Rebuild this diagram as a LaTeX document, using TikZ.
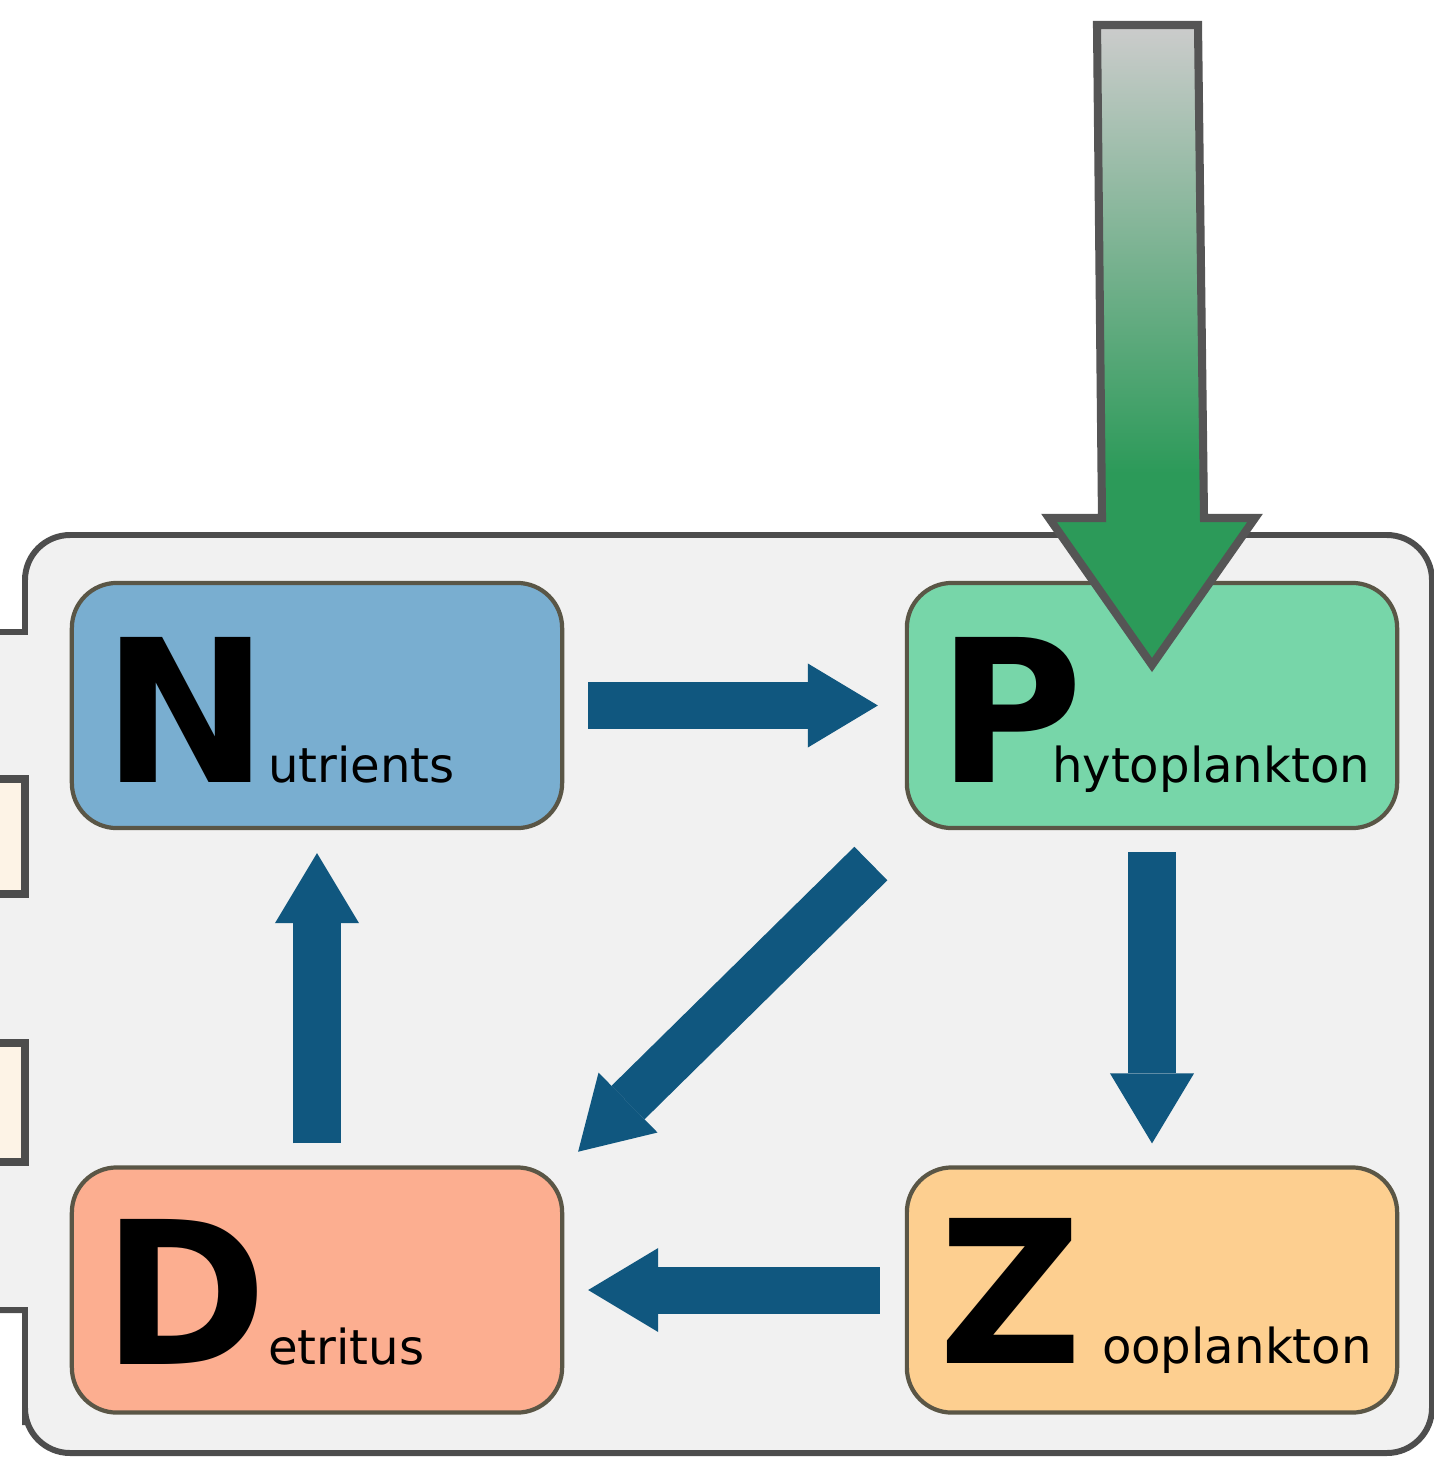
\documentclass[tikz,border=0pt]{standalone}
\usepackage{fontspec}
\setmainfont{DejaVu Sans}
\usetikzlibrary{arrows.meta}
\definecolor{panelfill}{HTML}{F1F1F1}
\definecolor{panelline}{HTML}{4D4D4D}
\definecolor{boxline}{HTML}{5A5646}
\definecolor{nfill}{HTML}{79AED0}
\definecolor{pfill}{HTML}{77D6A9}
\definecolor{dfill}{HTML}{FCAE90}
\definecolor{zfill}{HTML}{FDCF90}
\definecolor{flowblue}{HTML}{10577F}
\definecolor{arrowedge}{HTML}{555555}
\definecolor{flowgreen}{HTML}{2C9A59}
\definecolor{flowgrey}{HTML}{CCCCCC}
\definecolor{cream}{HTML}{FDF3E6}
\pgfdeclareverticalshading{greenfade}{100bp}{color(0bp)=(flowgreen); color(40bp)=(flowgreen); color(75bp)=(flowgrey); color(100bp)=(flowgrey)}
\begin{document}
\begin{tikzpicture}[x=0.01cm,y=-0.01cm,
  box/.style={draw=boxline, line width=1.2pt, rounded corners=0.45cm,
    minimum width=4.9cm, minimum height=2.45cm, inner sep=0pt, outer sep=0pt},
  bigletter/.style={anchor=base west, inner sep=0pt, outer sep=0pt,
    font=\fontsize{56.6}{60}\selectfont\bfseries},
  smalltext/.style={anchor=base west, inner sep=0pt, outer sep=0pt,
    font=\fontsize{13.7}{16}\selectfont},
  flow/.style={draw=flowblue, line width=0.47cm,
    -{Triangle[length=0.7cm,width=0.84cm,line width=0pt]}},
  sidebox/.style={draw=panelline, fill=cream, line width=2pt},
]
\useasboundingbox (0,0) rectangle (1434,1457);
\clip (0,0) rectangle (1434,1457);

% panel
\fill[panelfill] (0,632) -- (25,632) -- (25,600) [rounded corners=0.45cm] -- (25,535)
  -- (1432,535) -- (1432,1453) -- (25,1453) -- (25,1380) [sharp corners] -- (25,1310)
  -- (0,1310) -- cycle;
\draw[panelline, line width=1.7pt] (0,632) -- (25,632) -- (25,600) [rounded corners=0.45cm] -- (25,535)
  -- (1432,535) -- (1432,1453) -- (25,1453) -- (25,1380) [sharp corners] -- (25,1310)
  -- (0,1310);

% side boxes
\draw[sidebox] (-20,779) rectangle (25,894);
\draw[sidebox] (-20,1043) rectangle (25,1162);

% compartments
\node[box, fill=nfill] (N) at (317,705.5) {};
\node[box, fill=pfill] (P) at (1152,705.5) {};
\node[box, fill=dfill] (D) at (317,1290) {};
\node[box, fill=zfill] (Z) at (1152,1290) {};

% labels
\node[bigletter] (Nl) at (102,782) {N};
\node[smalltext] (Ns) at (268,782) {utrients};
\node[bigletter] (Pl) at (937,782) {P};
\node[smalltext] (Ps) at (1052,782) {hytoplankton};
\node[bigletter] (Dl) at (102,1364) {D};
\node[smalltext] (Ds) at (268,1364) {etritus};
\node[bigletter] (Zl) at (938,1363) {Z};
\node[smalltext] (Zs) at (1102,1363) {ooplankton};

% flows
\draw[flow, shorten <=0.26cm, shorten >=0.29cm] (N.east) -- (P.west);
\draw[flow, shorten <=0.24cm, shorten >=0.24cm] (P.south) -- (Z.north);
\draw[flow, shorten <=0.27cm, shorten >=0.26cm] (Z.west) -- (D.east);
\draw[flow, shorten <=0.24cm, shorten >=0.25cm] (D.north) -- (N.south);
\draw[flow, shorten <=0.505cm, shorten >=0.224cm] (P.south west) -- (D.north east);

% light input arrow
\shadedraw[shading=greenfade, draw=arrowedge, line width=2.3pt, line join=miter]
  (1097,25) -- (1198,25) -- (1204,518) -- (1255,518) -- (1152,665)
  -- (1049,518) -- (1102,518) -- cycle;
\end{tikzpicture}
\end{document}
